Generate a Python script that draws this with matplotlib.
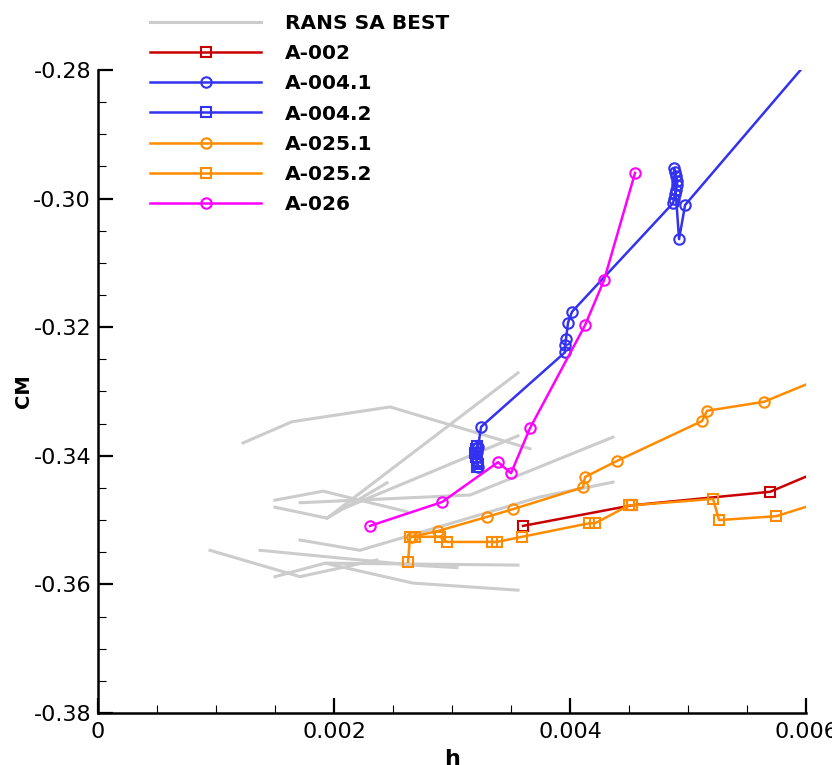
import matplotlib
matplotlib.use("Agg")
import matplotlib.pyplot as plt
from matplotlib.ticker import MultipleLocator, FuncFormatter

plt.rcParams["font.family"] = ["DejaVu Sans"]
plt.rcParams["axes.unicode_minus"] = False

# RANS SA BEST reference polylines (h, CM)
rans_lines = [
    ([0.001229, 0.001644, 0.002475, 0.003661], [-0.3380, -0.3347, -0.3324, -0.3389]),
    ([0.003559, 0.001941], [-0.3271, -0.3497]),
    ([0.001500, 0.001907, 0.002619], [-0.3469, -0.3455, -0.3487]),
    ([0.001500, 0.001941, 0.002449], [-0.3480, -0.3497, -0.3442]),
    ([0.001712, 0.003153, 0.004364], [-0.3473, -0.3461, -0.3371]),
    ([0.001712, 0.002220, 0.003746, 0.004364], [-0.3531, -0.3547, -0.3464, -0.3441]),
    ([0.002093, 0.003559], [-0.3481, -0.3369]),
    ([0.000949, 0.001712, 0.002364], [-0.3547, -0.3588, -0.3562]),
    ([0.001373, 0.002669, 0.003042], [-0.3547, -0.3570, -0.3574]),
    ([0.001500, 0.001924, 0.002669, 0.003559], [-0.3588, -0.3567, -0.3598, -0.3609]),
    ([0.001941, 0.003559], [-0.3567, -0.3570]),
]

h_a002 = [0.003602, 0.004525, 0.005695, 0.006200]
cm_a002 = [-0.3509, -0.3477, -0.3456, -0.3417]

h_a004_1 = [0.003220, 0.003212, 0.003203, 0.003212, 0.003220, 0.003246,
            0.003958, 0.003958, 0.003966, 0.003983, 0.004017,
            0.004873, 0.004881, 0.004890, 0.004898, 0.004907, 0.004907,
            0.004898, 0.004890, 0.004881, 0.004924, 0.004975, 0.006200]
cm_a004_1 = [-0.3417, -0.3410, -0.3402, -0.3394, -0.3387, -0.3355,
             -0.3239, -0.3228, -0.3218, -0.3193, -0.3176,
             -0.3007, -0.3000, -0.2993, -0.2986, -0.2979, -0.2972,
             -0.2965, -0.2959, -0.2953, -0.3063, -0.3010, -0.2747]

h_a004_2 = [0.003212, 0.003203, 0.003195, 0.003203, 0.003212, 0.003220, 0.003212]
cm_a004_2 = [-0.3385, -0.3390, -0.3396, -0.3402, -0.3408, -0.3413, -0.3417]

h_a025_1 = [0.002661, 0.002881, 0.003297, 0.003517, 0.004110, 0.004127, 0.004398,
            0.005119, 0.005161, 0.005644, 0.006200]
cm_a025_1 = [-0.3526, -0.3517, -0.3495, -0.3483, -0.3449, -0.3433, -0.3408,
             -0.3346, -0.3330, -0.3316, -0.3274]

h_a025_2 = [0.002627, 0.002644, 0.002686, 0.002898, 0.002958, 0.003339, 0.003381,
            0.003593, 0.004161, 0.004212, 0.004500, 0.004525, 0.005212, 0.005263,
            0.005746, 0.006200]
cm_a025_2 = [-0.3565, -0.3526, -0.3526, -0.3526, -0.3534, -0.3534, -0.3534,
             -0.3526, -0.3505, -0.3505, -0.3477, -0.3477, -0.3467, -0.3500,
             -0.3494, -0.3468]

h_a026 = [0.002305, 0.002915, 0.003390, 0.003500, 0.003661, 0.004127, 0.004288, 0.004551]
cm_a026 = [-0.3509, -0.3472, -0.3410, -0.3427, -0.3357, -0.3197, -0.3127, -0.2960]

fig = plt.figure(figsize=(8.32, 7.65), dpi=100)
ax = fig.add_axes([0.1178, 0.068, 0.851, 0.8405])

# reference runs in light gray, behind everything
for i, (hh, cc) in enumerate(rans_lines):
    ax.plot(hh, cc, color="#cccccc", lw=2.2, zorder=1,
            label="RANS SA BEST" if i == 0 else None)

mk = dict(markerfacecolor="none", markersize=7.5, markeredgewidth=1.5, lw=1.8, zorder=3)
ax.plot(h_a002, cm_a002, color="#c80000", marker="s", label="A-002", **mk)
ax.plot(h_a004_1, cm_a004_1, color="#3232f0", marker="o", label="A-004.1", **mk)
ax.plot(h_a004_2, cm_a004_2, color="#3232f0", marker="s", label="A-004.2", **mk)
ax.plot(h_a025_1, cm_a025_1, color="#ff8c00", marker="o", label="A-025.1", **mk)
ax.plot(h_a025_2, cm_a025_2, color="#ff8c00", marker="s", label="A-025.2", **mk)
ax.plot(h_a026, cm_a026, color="#ff00ff", marker="o", label="A-026", **mk)

ax.set_xlim(0, 0.006)
ax.set_ylim(-0.38, -0.28)

ax.spines["top"].set_visible(False)
ax.spines["right"].set_visible(False)
ax.spines["left"].set_linewidth(1.8)
ax.spines["bottom"].set_linewidth(1.8)

ax.xaxis.set_major_locator(MultipleLocator(0.002))
ax.xaxis.set_minor_locator(MultipleLocator(0.0005))
ax.yaxis.set_major_locator(MultipleLocator(0.02))
ax.yaxis.set_minor_locator(MultipleLocator(0.005))
ax.xaxis.set_major_formatter(FuncFormatter(lambda v, p: "0" if abs(v) < 1e-9 else "%.3f" % v))
ax.yaxis.set_major_formatter(FuncFormatter(lambda v, p: "%.2f" % v))
ax.tick_params(which="major", direction="in", length=11, width=1.6, labelsize=16)
ax.tick_params(which="minor", direction="in", length=6, width=0.8)
ax.tick_params(axis="x", which="major", pad=6.5)
ax.tick_params(axis="y", which="major", pad=5)
ax.tick_params(top=False, right=False, which="both")

ax.set_xlabel("h", fontsize=16, fontweight="bold", labelpad=5)
ax.set_ylabel("CM", fontsize=14, fontweight="bold", labelpad=0)

leg = ax.legend(loc="upper left", bbox_to_anchor=(0.073, 1.0 + 56 / 643), frameon=False,
                fontsize=14.5, handlelength=5.55, handletextpad=1.15, labelspacing=0.555,
                borderaxespad=0, borderpad=0)
for t in leg.get_texts():
    t.set_fontweight("bold")

fig.savefig("out.png", dpi=100)
